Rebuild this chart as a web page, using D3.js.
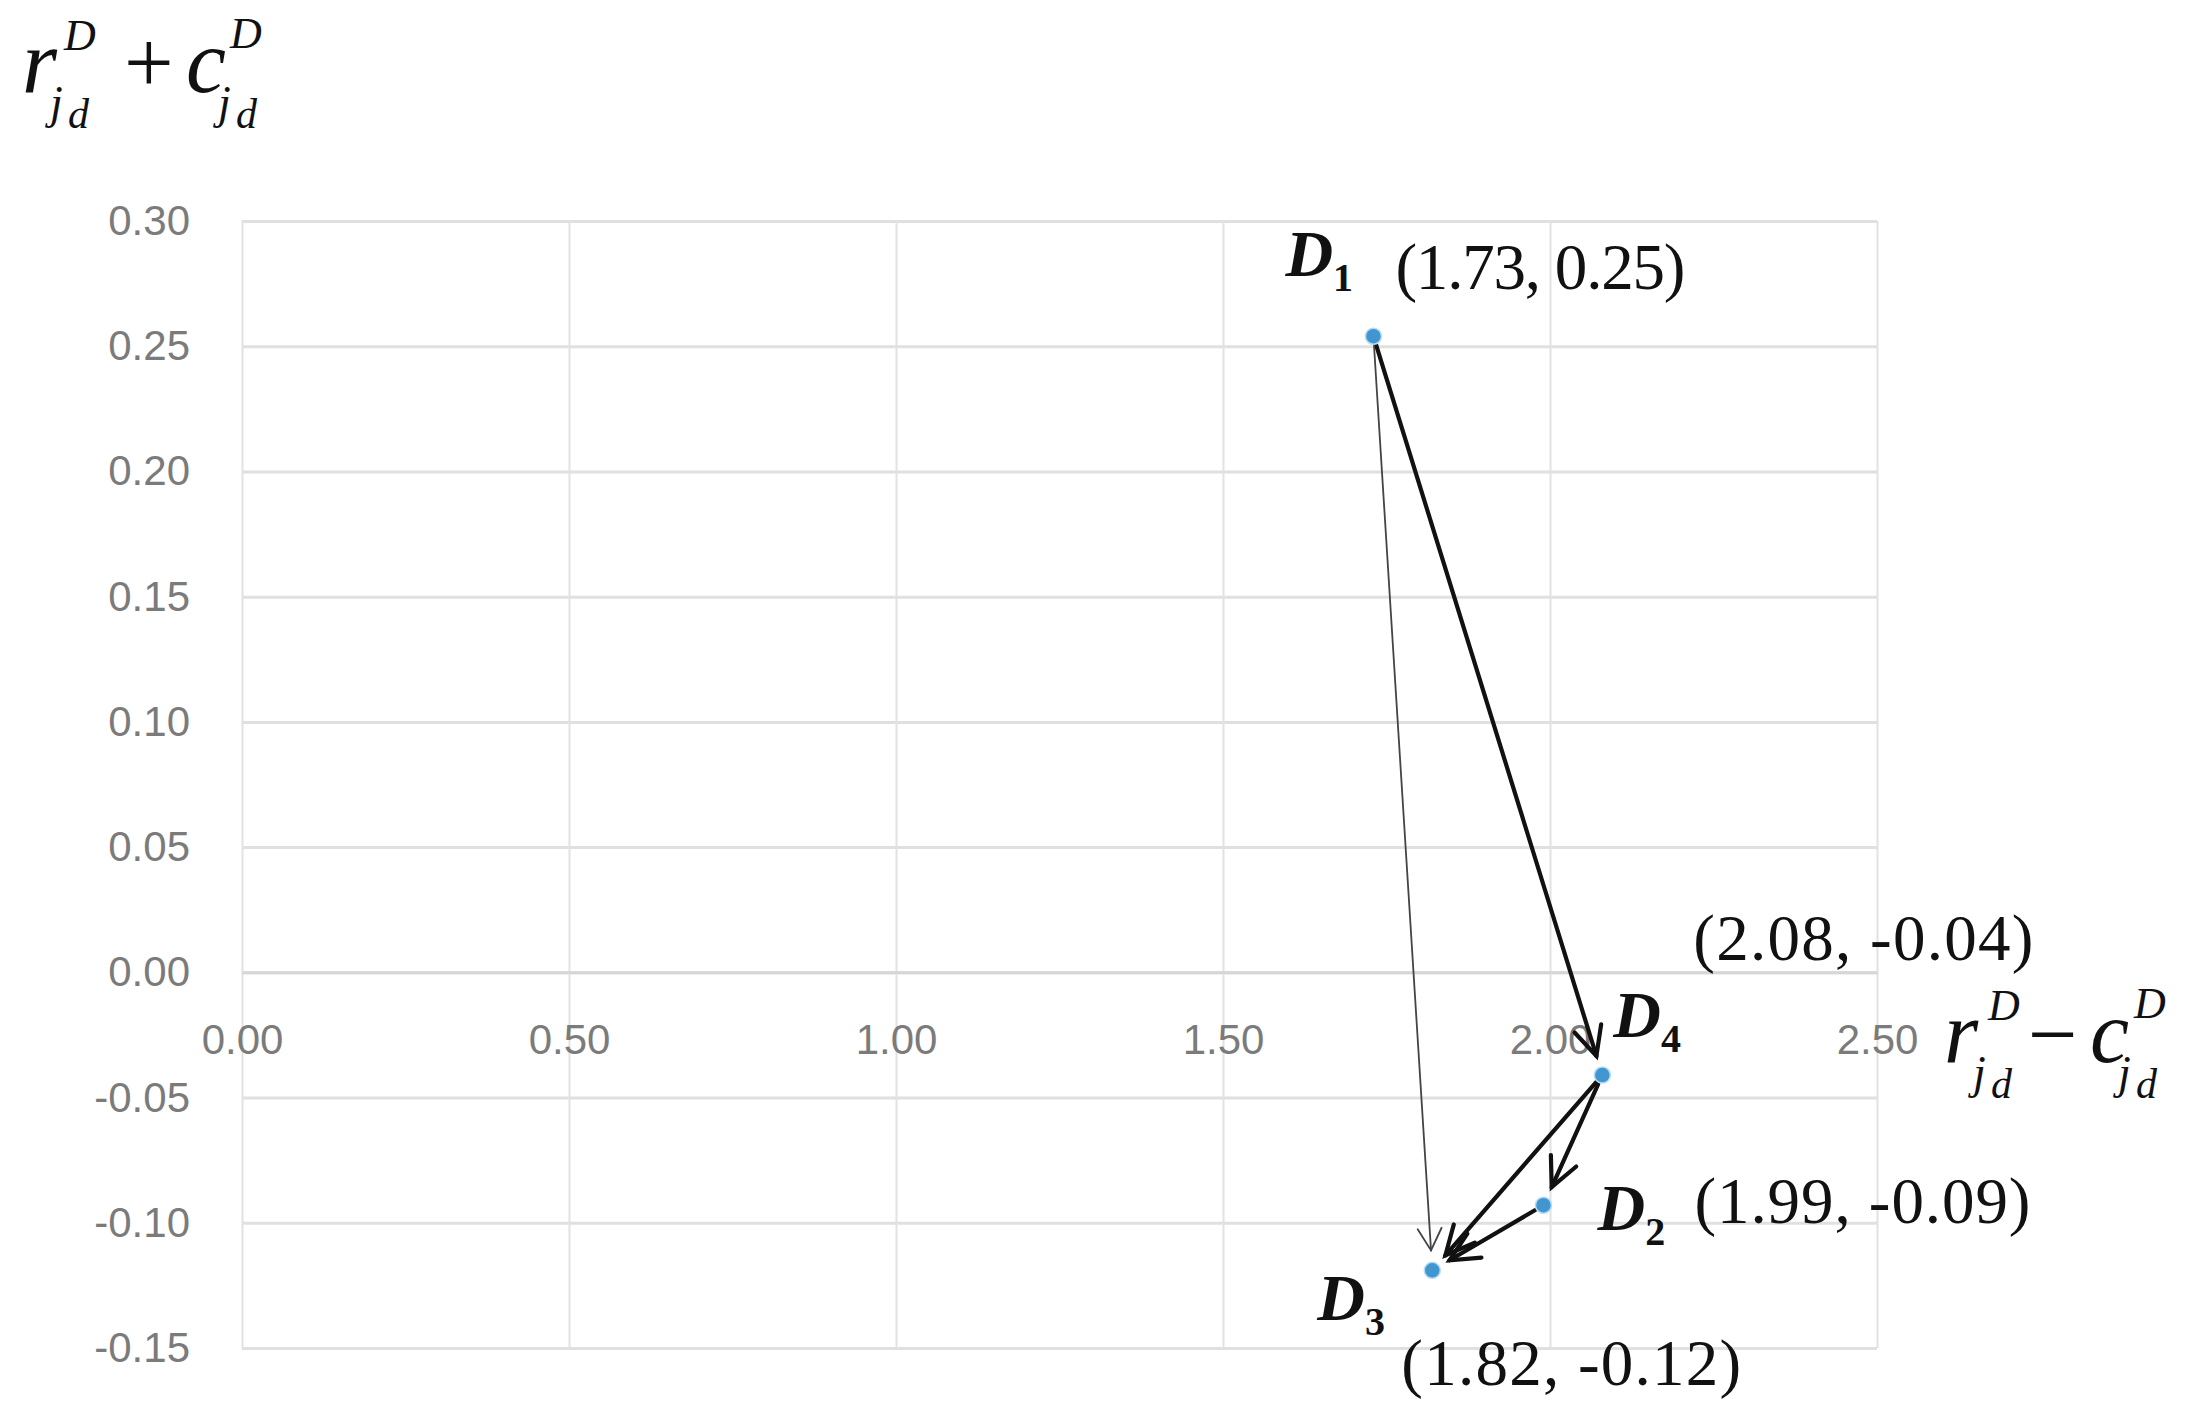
<!DOCTYPE html>
<html>
<head>
<meta charset="utf-8">
<script src="https://cdn.jsdelivr.net/npm/d3@7/dist/d3.min.js"></script>
<style>
  html, body { margin: 0; padding: 0; background: #fff; }
  svg { display: block; }
</style>
</head>
<body>
<div id="chart"></div>
<script>
// Points (x = r - c, y = r + c)
var names = ["D1", "D2", "D3", "D4"];
var xValues = [1.73, 1.99, 1.82, 2.08];
var yValues = [0.254, -0.093, -0.119, -0.041];
var coordLabels = ["(1.73, 0.25)", "(1.99, -0.09)", "(1.82, -0.12)", "(2.08, -0.04)"];

// Arrows between points
var linkFrom = ["D1", "D1", "D4", "D4", "D2"];
var linkTo = ["D4", "D3", "D2", "D3", "D3"];

// Tick labels
var xTicks = [0, 0.5, 1.0, 1.5, 2.0, 2.5];
var yTicks = [-0.15, -0.10, -0.05, 0.00, 0.05, 0.10, 0.15, 0.20, 0.25, 0.30];

// layout / style stuff
var linkThin = [false, true, false, false, false];
var nameOffsets = [[-88, -60], [54, 25], [-115, 50], [11, -38]];
var coordOffsets = [[22, -47], [151, 18], [-31, 115], [91, -115]];
var coordWidths = [290, 336, 340, 340];

var width = 2204;
var height = 1424;
var plotL = 242, plotR = 1877, plotT = 221, plotB = 1348;

var svg = d3.select("#chart")
  .append("svg")
  .attr("width", width)
  .attr("height", height);

var xScale = d3.scaleLinear().domain([0, 2.5]).range([plotL, plotR]);
var yScale = d3.scaleLinear().domain([-0.15, 0.30]).range([plotB, plotT]);

var tickFont = "'Liberation Sans Narrow', 'Liberation Sans', Arial, sans-serif";
var serif = "'Liberation Serif', 'Times New Roman', serif";
var fmt = d => d3.format(".2f")(d).replace("\u2212", "-");

// horizontal gridlines + y labels
var yAxis = svg.append("g")
  .attr("transform", "translate(" + plotL + ",0)")
  .call(d3.axisLeft(yScale).tickValues(yTicks).tickSize(-(plotR - plotL)).tickPadding(52).tickFormat(fmt));
yAxis.select(".domain").remove();
yAxis.selectAll("line").attr("stroke", "#e0e0e0").attr("stroke-width", 3);
yAxis.selectAll("text")
  .attr("font-family", tickFont)
  .attr("font-size", 42)
  .attr("fill", "#7b7b7b");

// vertical gridlines
var xGrid = svg.append("g")
  .attr("transform", "translate(0," + plotB + ")")
  .call(d3.axisBottom(xScale).tickValues(xTicks).tickSize(-(plotB - plotT)).tickFormat(""));
xGrid.select(".domain").remove();
xGrid.selectAll("line").attr("stroke", "#e2e2e2").attr("stroke-width", 2);

// x labels sit under the zero line
var xAxis = svg.append("g")
  .attr("transform", "translate(0," + yScale(0) + ")")
  .call(d3.axisBottom(xScale).tickValues(xTicks).tickSize(0).tickFormat(fmt));
xAxis.select(".domain").attr("stroke", "#d6d6d6").attr("stroke-width", 3);
xAxis.selectAll("text")
  .attr("y", 67)
  .attr("dy", "0.35em")
  .attr("font-family", tickFont)
  .attr("font-size", 42)
  .attr("fill", "#7b7b7b");

// arrows
var idx = {};
names.forEach((n, i) => idx[n] = i);

function arrow(i) {
  var a = idx[linkFrom[i]], b = idx[linkTo[i]];
  var x1 = xScale(xValues[a]), y1 = yScale(yValues[a]);
  var x2 = xScale(xValues[b]), y2 = yScale(yValues[b]);
  var len = Math.hypot(x2 - x1, y2 - y1);
  var ux = (x2 - x1) / len, uy = (y2 - y1) / len;
  var startGap = linkFrom[i] == "D1" ? 2 : 10;
  var endGap = 20;
  var sx = x1 + ux * startGap, sy = y1 + uy * startGap;
  var ex = x2 - ux * endGap, ey = y2 - uy * endGap;
  var thin = linkThin[i];
  var hl = thin ? 25 : 32, ang = thin ? 0.5 : 0.45;
  var g = svg.append("g").attr("fill", "none").attr("stroke", thin ? "#444" : "#111")
    .attr("stroke-width", thin ? 1.8 : 4.2).attr("stroke-linecap", "round").attr("stroke-linejoin", "miter");
  g.append("line").attr("x1", sx).attr("y1", sy).attr("x2", ex).attr("y2", ey);
  var base = Math.atan2(uy, ux) + Math.PI;
  var w1 = [ex + hl * Math.cos(base + ang), ey + hl * Math.sin(base + ang)];
  var w2 = [ex + hl * Math.cos(base - ang), ey + hl * Math.sin(base - ang)];
  g.append("path").attr("d", "M" + w1 + "L" + ex + "," + ey + "L" + w2);
}
linkFrom.forEach((d, i) => arrow(i));

// points
svg.selectAll("circle.pt")
  .data(names)
  .enter()
  .append("circle")
  .attr("class", "pt")
  .attr("cx", (d, i) => xScale(xValues[i]))
  .attr("cy", (d, i) => yScale(yValues[i]))
  .attr("r", 8)
  .attr("fill", "#4196d2")
  .attr("stroke", "#b4dbf3")
  .attr("stroke-width", 1.5);

// point names: bold italic D with subscript number
names.forEach(function(n, i) {
  var px = xScale(xValues[i]) + nameOffsets[i][0];
  var py = yScale(yValues[i]) + nameOffsets[i][1];
  var t = svg.append("text")
    .attr("x", px).attr("y", py)
    .attr("font-family", serif)
    .attr("font-weight", "bold")
    .attr("fill", "#111");
  t.append("tspan").attr("font-style", "italic").attr("font-size", 66).text(n.charAt(0));
  t.append("tspan").attr("font-size", 40).attr("dy", 15).text(n.slice(1));
});

// coordinate labels
svg.selectAll("text.coord")
  .data(coordLabels)
  .enter()
  .append("text")
  .attr("class", "coord")
  .attr("x", (d, i) => xScale(xValues[i]) + coordOffsets[i][0])
  .attr("y", (d, i) => yScale(yValues[i]) + coordOffsets[i][1])
  .attr("textLength", (d, i) => coordWidths[i])
  .attr("lengthAdjust", "spacing")
  .attr("font-family", serif)
  .attr("font-size", 65)
  .attr("fill", "#111")
  .text(d => d);

// axis titles built from italic pieces
function mathTitle(parts) {
  parts.forEach(function(p) {
    svg.append("text")
      .attr("x", p[1]).attr("y", p[2])
      .attr("font-family", serif)
      .attr("font-size", p[3])
      .attr("font-style", p[4] ? "italic" : "normal")
      .attr("fill", "#111")
      .text(p[0]);
  });
}

// y title: r + c
mathTitle([
  ["r", 22, 92, 90, true],
  ["D", 64, 50, 44, true],
  ["j", 50, 118, 46, true],
  ["d", 68, 128, 42, true],
  ["+", 124, 92, 88, false],
  ["c", 186, 92, 90, true],
  ["D", 230, 48, 44, true],
  ["j", 218, 118, 46, true],
  ["d", 236, 128, 42, true]
]);

// x title: r - c
mathTitle([
  ["r", 1944, 1062, 88, true],
  ["D", 1988, 1020, 44, true],
  ["j", 1973, 1088, 46, true],
  ["d", 1991, 1098, 42, true],
  ["\u2212", 2028, 1064, 88, false],
  ["c", 2090, 1062, 88, true],
  ["D", 2134, 1018, 44, true],
  ["j", 2118, 1088, 46, true],
  ["d", 2136, 1098, 42, true]
]);
</script>
</body>
</html>
